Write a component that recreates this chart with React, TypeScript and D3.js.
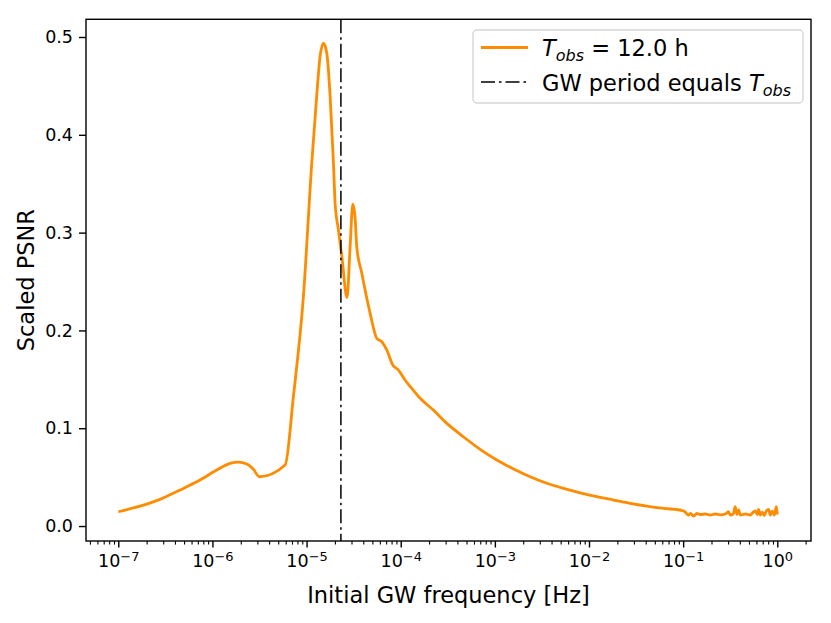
import React, { useEffect, useRef } from "react";
import * as d3 from "d3";

// initial GW frequency [Hz] and scaled PSNR
const frequencies = [
  1.0e-7, 1.7e-7, 2.77e-7, 4.53e-7, 7.38e-7, 1.11e-6, 1.54e-6, 1.88e-6, 2.32e-6, 2.72e-6,
  3.15e-6, 5.92e-6, 7.24e-6, 9.25e-6, 1.135e-5, 1.28e-5, 1.39e-5, 1.51e-5, 1.64e-5, 1.78e-5,
  1.93e-5, 2.01e-5, 2.18e-5, 2.37e-5, 2.69e-5, 2.9e-5, 3.1e-5, 3.27e-5, 3.41e-5, 3.86e-5,
  4.73e-5, 5.57e-5, 6.3e-5, 7.11e-5, 8.24e-5, 9.46e-5, 1.11e-4, 1.31e-4, 1.61e-4, 2.22e-4,
  3.09e-4, 4.63e-4, 6.98e-4, 1.05e-3, 1.58e-3, 2.37e-3, 3.57e-3, 5.36e-3, 8.05e-3, 1.21e-2,
  1.82e-2, 2.74e-2, 4.12e-2, 6.19e-2, 1.01e-1, 1.14e-1, 0.119, 0.129, 0.14, 0.152,
  0.172, 0.194, 0.219, 0.248, 0.28, 0.303, 0.316, 0.34, 0.357, 0.372,
  0.388, 0.405, 0.457, 0.516, 0.556, 0.583, 0.612, 0.632, 0.661, 0.693,
  0.728, 0.764, 0.809, 0.843, 0.885, 0.929, 0.977, 1.0,
];
const psnr = [
  0.0146, 0.0204, 0.0273, 0.0368, 0.047, 0.0573, 0.0641, 0.0654, 0.0634, 0.058,
  0.0504, 0.0624, 0.1322, 0.2345, 0.3709, 0.439, 0.4799, 0.4936, 0.4833, 0.439,
  0.3709, 0.33, 0.3027, 0.2754, 0.2336, 0.2856, 0.3292, 0.3163, 0.2856, 0.2584,
  0.2175, 0.1919, 0.1884, 0.18, 0.1646, 0.1595, 0.1493, 0.1408, 0.1306, 0.1186,
  0.105, 0.0913, 0.0784, 0.0675, 0.0583, 0.0504, 0.0437, 0.0385, 0.034, 0.03,
  0.0266, 0.0232, 0.0204, 0.0181, 0.0156, 0.0112, 0.013, 0.0102, 0.0128, 0.0118,
  0.0123, 0.0112, 0.0123, 0.0115, 0.0123, 0.0146, 0.0112, 0.0123, 0.0197, 0.0118,
  0.0164, 0.0112, 0.0123, 0.0112, 0.0143, 0.0156, 0.0118, 0.0171, 0.0112, 0.0143,
  0.0107, 0.0153, 0.0171, 0.0112, 0.0153, 0.0112, 0.0197, 0.0118,
];

const tObsHours = 12.0;
const gwPeriodFreq = 1 / (tObsHours * 3600);

const yTicks = [0, 0.1, 0.2, 0.3, 0.4, 0.5];
const xMajorTicks = [1e-7, 1e-6, 1e-5, 1e-4, 1e-3, 1e-2, 1e-1, 1];
const xLabel = "Initial GW frequency [Hz]";
const yLabel = "Scaled PSNR";

export default function App() {
  const svgRef = useRef<SVGSVGElement>(null);

  useEffect(() => {
    const width = 831;
    const height = 623;
    const left = 86;
    const right = 811;
    const top = 19.3;
    const bottom = 541;
    const font = "DejaVu Sans, sans-serif";

    const x = d3.scaleLog().domain([10 ** -7.343, 10 ** 0.358]).range([left, right]);
    const y = d3.scaleLinear().domain([-0.0153, 0.5181]).range([bottom, top]);

    const svg = d3.select(svgRef.current).attr("width", width).attr("height", height);
    svg.selectAll("*").remove();

    svg.append("rect").attr("width", width).attr("height", height).attr("fill", "#fff");

    // minor x ticks
    const minor = x.ticks().filter((t) => !xMajorTicks.some((m) => Math.abs(m - t) / m < 1e-6));
    const gMinor = svg
      .append("g")
      .attr("transform", `translate(0,${bottom})`)
      .call(d3.axisBottom(x).tickValues(minor).tickSize(3.6).tickSizeOuter(0).tickFormat(() => ""));
    gMinor.select(".domain").remove();
    gMinor.selectAll("line").attr("stroke", "#000").attr("stroke-width", 1.1);

    // major x ticks with 10^n labels
    const gx = svg
      .append("g")
      .attr("transform", `translate(0,${bottom})`)
      .call(d3.axisBottom(x).tickValues(xMajorTicks).tickSize(6.5).tickSizeOuter(0).tickFormat(() => ""));
    gx.select(".domain").remove();
    gx.selectAll("line").attr("stroke", "#000").attr("stroke-width", 1.4);
    gx.selectAll<SVGTextElement, number>(".tick text").each(function (d) {
      const t = d3.select(this);
      const exp = Math.round(Math.log10(d));
      t.text(null)
        .attr("dy", null)
        .attr("y", 26.3)
        .attr("fill", "#000")
        .attr("font-family", font)
        .attr("font-size", 17.5);
      t.append("tspan").text("10");
      t.append("tspan")
        .attr("dy", -6.5)
        .attr("font-size", 13)
        .text(exp < 0 ? `\u2212${-exp}` : `${exp}`);
    });

    // y axis
    const gy = svg
      .append("g")
      .attr("transform", `translate(${left},0)`)
      .call(d3.axisLeft(y).tickValues(yTicks).tickSize(7).tickPadding(6).tickSizeOuter(0).tickFormat(d3.format(".1f")));
    gy.select(".domain").remove();
    gy.selectAll("line").attr("stroke", "#000").attr("stroke-width", 1.4);
    gy.selectAll("text").attr("fill", "#000").attr("font-family", font).attr("font-size", 17.5);

    // data line
    const line = d3
      .line<number>()
      .x((d, i) => x(frequencies[i]))
      .y((d) => y(d))
      .curve(d3.curveMonotoneX);

    svg
      .append("path")
      .attr("d", line(psnr))
      .attr("fill", "none")
      .attr("stroke", "#ff8c00")
      .attr("stroke-width", 2.8)
      .attr("stroke-linejoin", "round");

    // GW period equals T_obs
    svg
      .append("line")
      .attr("x1", x(gwPeriodFreq))
      .attr("x2", x(gwPeriodFreq))
      .attr("y1", top)
      .attr("y2", bottom)
      .attr("stroke", "#000")
      .attr("stroke-width", 1.5)
      .attr("stroke-dasharray", "14,4,2.5,4");

    // frame
    svg
      .append("rect")
      .attr("x", left)
      .attr("y", top)
      .attr("width", right - left)
      .attr("height", bottom - top)
      .attr("fill", "none")
      .attr("stroke", "#000")
      .attr("stroke-width", 1.4);

    // axis labels
    svg
      .append("text")
      .attr("x", (left + right) / 2)
      .attr("y", 602.7)
      .attr("text-anchor", "middle")
      .attr("font-family", font)
      .attr("font-size", 22.5)
      .text(xLabel);

    svg
      .append("text")
      .attr("transform", `translate(33.5,${(top + bottom) / 2}) rotate(-90)`)
      .attr("text-anchor", "middle")
      .attr("font-family", font)
      .attr("font-size", 22.5)
      .text(yLabel);

    // legend
    const lg = svg.append("g").attr("font-family", font).attr("font-size", 22.5);
    lg.append("rect")
      .attr("x", 473)
      .attr("y", 30)
      .attr("width", 330)
      .attr("height", 73)
      .attr("rx", 4)
      .attr("fill", "#fff")
      .attr("fill-opacity", 0.8)
      .attr("stroke", "#d6d6d6")
      .attr("stroke-width", 1.4);

    lg.append("line")
      .attr("x1", 481)
      .attr("x2", 528)
      .attr("y1", 47.5)
      .attr("y2", 47.5)
      .attr("stroke", "#ff8c00")
      .attr("stroke-width", 2.8);
    const t1 = lg.append("text").attr("x", 542).attr("y", 56);
    t1.append("tspan").attr("font-style", "italic").text("T");
    t1.append("tspan").attr("font-style", "italic").attr("font-size", 16).attr("dy", 5).text("obs");
    t1.append("tspan").attr("dy", -5).text(` = ${tObsHours.toFixed(1)} h`);

    lg.append("line")
      .attr("x1", 481)
      .attr("x2", 528)
      .attr("y1", 82)
      .attr("y2", 82)
      .attr("stroke", "#000")
      .attr("stroke-width", 1.5)
      .attr("stroke-dasharray", "14,4,2.5,4");
    const t2 = lg.append("text").attr("x", 542).attr("y", 90.5);
    t2.append("tspan").text("GW period equals ");
    t2.append("tspan").attr("font-style", "italic").text("T");
    t2.append("tspan").attr("font-style", "italic").attr("font-size", 16).attr("dy", 5).text("obs");
  }, []);

  return <svg ref={svgRef} style={{ position: "absolute", left: 0, top: 0 }}></svg>;
}
